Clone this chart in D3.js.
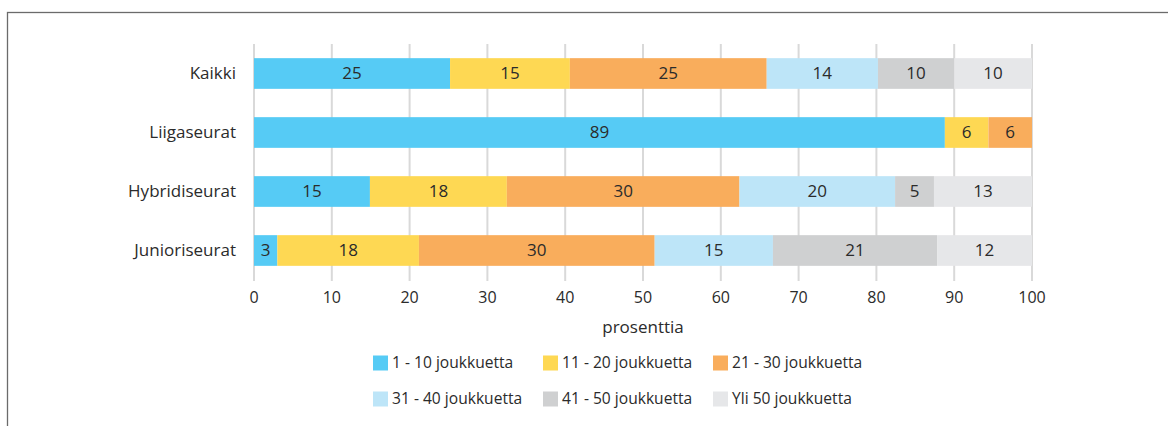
<!DOCTYPE html>
<html>
<head>
<meta charset="utf-8">
<script src="https://cdn.jsdelivr.net/npm/d3@7"></script>
<style>
  body { margin: 0; background: #fff; }
  svg { display: block; font-family: "Open Sans", Lato, sans-serif; }
</style>
</head>
<body>
<div id="chart"></div>
<script>
// Kategoriat ja sarjat
const categories = ["Kaikki", "Liigaseurat", "Hybridiseurat", "Junioriseurat"];
const seriesNames = ["1 - 10 joukkuetta", "11 - 20 joukkuetta", "21 - 30 joukkuetta",
                     "31 - 40 joukkuetta", "41 - 50 joukkuetta", "Yli 50 joukkuetta"];
const colors = ["#56cbf5", "#fed853", "#f9ad5c", "#bde5f8", "#cfd0d1", "#e6e7e9"];

// Osuudet prosentteina (luettu kuvasta), yksi taulukko per sarja
const s1to10  = [25.2, 88.8, 14.9, 3.0];
const s11to20 = [15.4, 5.6, 17.6, 18.2];
const s21to30 = [25.3, 5.6, 29.9, 30.3];
const s31to40 = [14.3, 0, 20.0, 15.2];
const s41to50 = [9.8, 0, 5.0, 21.1];
const sOver50 = [10.0, 0, 12.6, 12.2];
// Palkkien tekstit
const labels1 = [25, 89, 15, 3];
const labels2 = [15, 6, 18, 18];
const labels3 = [25, 6, 30, 30];
const labels4 = [14, null, 20, 15];
const labels5 = [10, null, 5, 21];
const labels6 = [10, null, 13, 12];
const xTicks = [0, 10, 20, 30, 40, 50, 60, 70, 80, 90, 100];

const seriesValues = [s1to10, s11to20, s21to30, s31to40, s41to50, sOver50];
const seriesLabels = [labels1, labels2, labels3, labels4, labels5, labels6];

const width = 1168, height = 426;
const textColor = "#2b2b2b";
const svg = d3.select("#chart").append("svg")
              .attr("width", width)
              .attr("height", height);

// Kehys (vain ylä- ja vasen reuna näkyvät)
svg.append("rect")
   .attr("x", 7.5).attr("y", 12.5)
   .attr("width", width + 20).attr("height", height + 20)
   .attr("fill", "none")
   .attr("stroke", "#6b6b6b")
   .attr("stroke-width", 1.3);

const x = d3.scaleLinear().domain([0, 100]).range([254, 1032]);
const y = d3.scaleBand().domain(categories).range([44, 280]).paddingInner(0.48).paddingOuter(0.24);

// Pystyviivat
svg.append("g")
   .selectAll("line")
   .data(xTicks)
   .enter()
   .append("line")
   .attr("x1", d => x(d)).attr("x2", d => x(d))
   .attr("y1", 44).attr("y2", 281)
   .attr("stroke", "#d9d9d9")
   .attr("stroke-width", 2);

// Pinotut palkit
const rows = categories.map((c, i) => {
  const r = { cat: c };
  seriesNames.forEach((s, j) => { r[s] = seriesValues[j][i]; });
  return r;
});
const stack = d3.stack().keys(seriesNames)(rows);

stack.forEach((layer, j) => {
  const g = svg.append("g");
  g.selectAll("rect")
   .data(layer)
   .enter()
   .append("rect")
   .attr("x", d => x(d[0]))
   .attr("y", d => y(d.data.cat))
   .attr("width", d => x(d[1]) - x(d[0]))
   .attr("height", y.bandwidth())
   .attr("fill", colors[j]);

  g.selectAll("text")
   .data(layer.filter((d, i) => seriesLabels[j][i] !== null))
   .enter()
   .append("text")
   .attr("x", d => (x(d[0]) + x(d[1])) / 2)
   .attr("y", d => y(d.data.cat) + y.bandwidth() / 2)
   .attr("dy", "0.35em")
   .attr("text-anchor", "middle")
   .attr("font-size", 17)
   .attr("fill", textColor)
   .text(d => seriesLabels[j][categories.indexOf(d.data.cat)]);
});

// Kategorianimet
svg.append("g")
   .selectAll("text")
   .data(categories)
   .enter()
   .append("text")
   .attr("x", 236)
   .attr("y", d => y(d) + y.bandwidth() / 2)
   .attr("dy", "0.35em")
   .attr("text-anchor", "end")
   .attr("font-size", 17)
   .attr("fill", textColor)
   .text(d => d);

// X-akselin tekstit
svg.append("g")
   .selectAll("text")
   .data(xTicks)
   .enter()
   .append("text")
   .attr("x", d => x(d))
   .attr("y", 297)
   .attr("dy", "0.35em")
   .attr("text-anchor", "middle")
   .attr("font-size", 16)
   .attr("fill", textColor)
   .text(d => d);

svg.append("text")
   .attr("x", x(50))
   .attr("y", 327)
   .attr("dy", "0.35em")
   .attr("text-anchor", "middle")
   .attr("font-size", 17)
   .attr("fill", textColor)
   .text("prosenttia");

// Selite
const legendX = [373, 543, 713];
const legendY = [363, 399];
const legend = svg.append("g")
   .selectAll("g")
   .data(seriesNames)
   .enter()
   .append("g")
   .attr("transform", (d, i) => `translate(${legendX[i % 3]},${legendY[Math.floor(i / 3)]})`);

legend.append("rect")
      .attr("x", 0).attr("y", -7.5)
      .attr("width", 15).attr("height", 15)
      .attr("fill", (d, i) => colors[i]);

legend.append("text")
      .attr("x", 19)
      .attr("y", 0)
      .attr("dy", "0.35em")
      .attr("font-size", 15.6)
      .attr("fill", textColor)
      .text(d => d);
</script>
</body>
</html>
